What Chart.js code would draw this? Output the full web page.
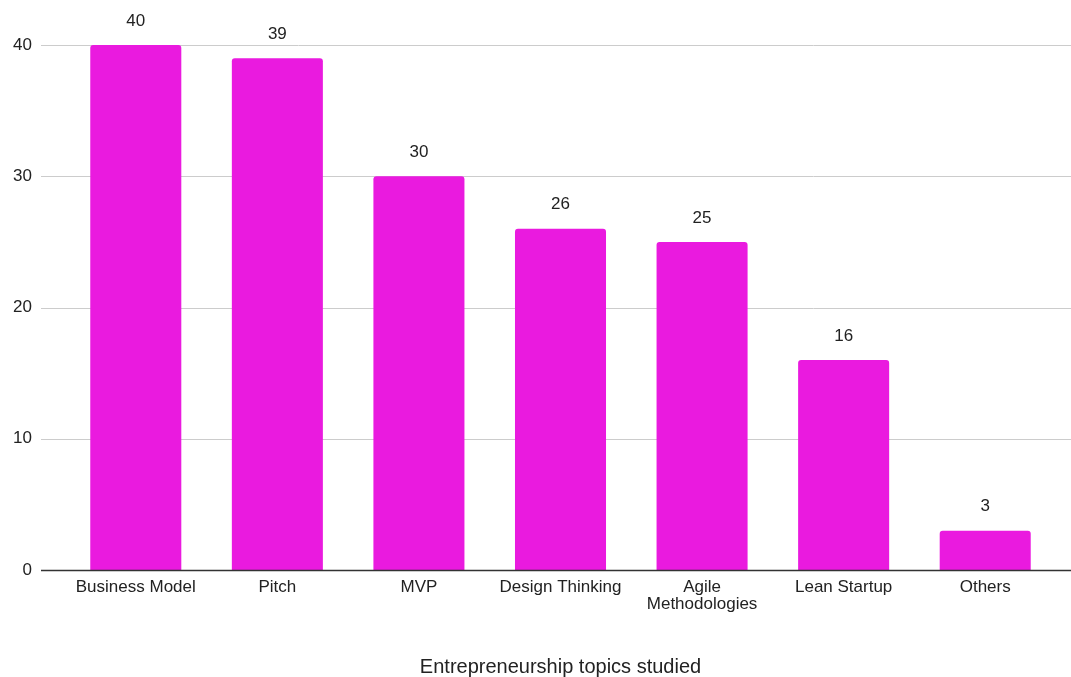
<!DOCTYPE html>
<html>
<head>
<meta charset="utf-8">
<script src="https://cdn.jsdelivr.net/npm/chart.js@4"></script>
<style>
  body { margin: 0; background: #fff; }
  #wrap { width: 1071px; height: 677px; }
</style>
</head>
<body>
<div id="wrap"><canvas id="topicsChart" width="1071" height="677"></canvas></div>
<script>
// Данни
const categories = ['Business Model', 'Pitch', 'MVP', 'Design Thinking', ['Agile', 'Methodologies'], 'Lean Startup', 'Others'];
const studentCounts = [40, 39, 30, 26, 25, 16, 3];
const yTicks = [0, 10, 20, 30, 40];
const xTitle = 'Entrepreneurship topics studied';

const FONT = "'Liberation Sans', Arial, sans-serif";
const GRID_LEFT = 41;
const GRID_RIGHT = 1071;

// Хоризонтални линии, по-широки от самата зона на графиката
const gridLines = {
  id: 'gridLines',
  beforeDatasetsDraw(chart) {
    const c = chart.ctx;
    const y = chart.scales.y;
    c.save();
    c.strokeStyle = '#cccccc';
    c.lineWidth = 1;
    yTicks.forEach(v => {
      if (v === 0) return;
      const py = Math.round(y.getPixelForValue(v)) + 0.5;
      c.beginPath();
      c.moveTo(GRID_LEFT, py);
      c.lineTo(GRID_RIGHT, py);
      c.stroke();
    });
    c.restore();
  },
  afterDatasetsDraw(chart) {
    const c = chart.ctx;
    const y = chart.scales.y;
    const py = Math.round(y.getPixelForValue(0)) + 0.5;
    c.save();
    c.strokeStyle = '#333333';
    c.lineWidth = 1.3;
    c.beginPath();
    c.moveTo(GRID_LEFT, py);
    c.lineTo(GRID_RIGHT, py);
    c.stroke();

    // стойности над колоните
    const meta = chart.getDatasetMeta(0);
    c.fillStyle = '#222';
    c.font = '17px ' + FONT;
    c.textAlign = 'center';
    c.textBaseline = 'middle';
    meta.data.forEach((bar, i) => {
      c.fillText(String(studentCounts[i]), bar.x, bar.y - 24);
    });
    c.restore();
  }
};

const ctx = document.getElementById('topicsChart').getContext('2d');
new Chart(ctx, {
  type: 'bar',
  data: {
    labels: categories,
    datasets: [{
      data: studentCounts,
      backgroundColor: '#ea1adf',
      borderRadius: { topLeft: 3, topRight: 3 },
      borderSkipped: 'bottom',
      barPercentage: 0.643,
      categoryPercentage: 1
    }]
  },
  options: {
    responsive: false,
    animation: false,
    layout: { padding: { left: 12, right: 15, top: 45, bottom: 0 } },
    plugins: {
      legend: { display: false },
      tooltip: { enabled: false }
    },
    scales: {
      x: {
        grid: { display: false, drawTicks: false },
        border: { display: false },
        ticks: {
          color: '#222',
          font: { family: FONT, size: 17, lineHeight: 1.0 },
          padding: 9,
          maxRotation: 0,
          autoSkip: false
        },
        title: {
          display: true,
          text: xTitle,
          color: '#222',
          font: { family: FONT, size: 20, lineHeight: 1 },
          padding: { top: 35, bottom: 0 }
        }
      },
      y: {
        min: 0,
        max: 40,
        afterBuildTicks(scale) {
          scale.ticks = yTicks.map(v => ({ value: v }));
        },
        afterFit(scale) {
          scale.width = 53;
        },
        grid: { display: false, drawTicks: false },
        border: { display: false },
        ticks: {
          color: '#222',
          font: { family: FONT, size: 17 },
          padding: 33
        }
      }
    }
  },
  plugins: [gridLines]
});
</script>
</body>
</html>
